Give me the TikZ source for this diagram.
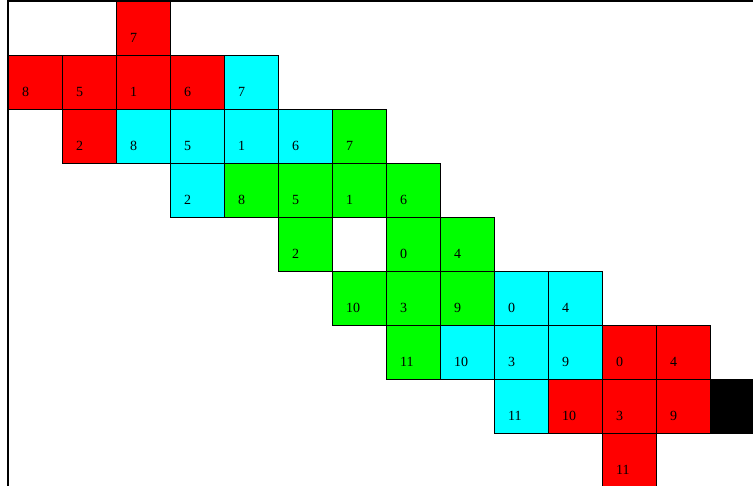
\documentclass[tikz,border=0pt]{standalone}
\usepackage{fontspec}
\setmainfont{Liberation Serif}
\usepackage{tikz}
\usepackage{xcolor}
\definecolor{cellred}{RGB}{255,0,0}
\definecolor{cellcyan}{RGB}{0,255,255}
\definecolor{cellgreen}{RGB}{0,255,0}

\tikzset{
    cell/.style={draw, anchor=north west, inner sep=0pt, inner xsep=14pt,
        text width=26pt, text height=41pt, text depth=13pt, align=left,
        font=\fontsize{14}{16}\selectfont},
}

\begin{document}
\begin{tikzpicture}[x=1pt, y=-1pt]
    \useasboundingbox (0,0) rectangle (753,486);
    \clip (0,0) rectangle (753,486);

    % red block, top left
    \node[cell, fill=cellred] (r0c2) at (116,1) {7};
    \node[cell, fill=cellred] (r1c0) at (8,55) {8};
    \node[cell, fill=cellred] (r1c1) at (62,55) {5};
    \node[cell, fill=cellred] (r1c2) at (116,55) {1};
    \node[cell, fill=cellred] (r1c3) at (170,55) {6};
    \node[cell, fill=cellred] (r2c1) at (62,109) {2};

    % cyan block
    \node[cell, fill=cellcyan] (r1c4) at (224,55) {7};
    \node[cell, fill=cellcyan] (r2c2) at (116,109) {8};
    \node[cell, fill=cellcyan] (r2c3) at (170,109) {5};
    \node[cell, fill=cellcyan] (r2c4) at (224,109) {1};
    \node[cell, fill=cellcyan] (r2c5) at (278,109) {6};
    \node[cell, fill=cellcyan] (r3c3) at (170,163) {2};

    % green block
    \node[cell, fill=cellgreen] (r2c6) at (332,109) {7};
    \node[cell, fill=cellgreen] (r3c4) at (224,163) {8};
    \node[cell, fill=cellgreen] (r3c5) at (278,163) {5};
    \node[cell, fill=cellgreen] (r3c6) at (332,163) {1};
    \node[cell, fill=cellgreen] (r3c7) at (386,163) {6};
    \node[cell, fill=cellgreen] (r4c5) at (278,217) {2};
    \node[cell, fill=cellgreen] (r4c7) at (386,217) {0};
    \node[cell, fill=cellgreen] (r4c8) at (440,217) {4};
    \node[cell, fill=cellgreen] (r5c6) at (332,271) {10};
    \node[cell, fill=cellgreen] (r5c7) at (386,271) {3};
    \node[cell, fill=cellgreen] (r5c8) at (440,271) {9};
    \node[cell, fill=cellgreen] (r6c7) at (386,325) {11};

    % cyan block, lower
    \node[cell, fill=cellcyan] (r5c9) at (494,271) {0};
    \node[cell, fill=cellcyan] (r5c10) at (548,271) {4};
    \node[cell, fill=cellcyan] (r6c8) at (440,325) {10};
    \node[cell, fill=cellcyan] (r6c9) at (494,325) {3};
    \node[cell, fill=cellcyan] (r6c10) at (548,325) {9};
    \node[cell, fill=cellcyan] (r7c9) at (494,379) {11};

    % red block, bottom right
    \node[cell, fill=cellred] (r6c11) at (602,325) {0};
    \node[cell, fill=cellred] (r6c12) at (656,325) {4};
    \node[cell, fill=cellred] (r7c10) at (548,379) {10};
    \node[cell, fill=cellred] (r7c11) at (602,379) {3};
    \node[cell, fill=cellred] (r7c12) at (656,379) {9};
    \node[cell, fill=cellred] (r8c11) at (602,433) {11};
    \node[cell, fill=black] (r7c13) at (710,379) {};

    % frame
    \draw[line width=1.2pt] (753,1) -- (8,1) -- (8,486);
\end{tikzpicture}
\end{document}
